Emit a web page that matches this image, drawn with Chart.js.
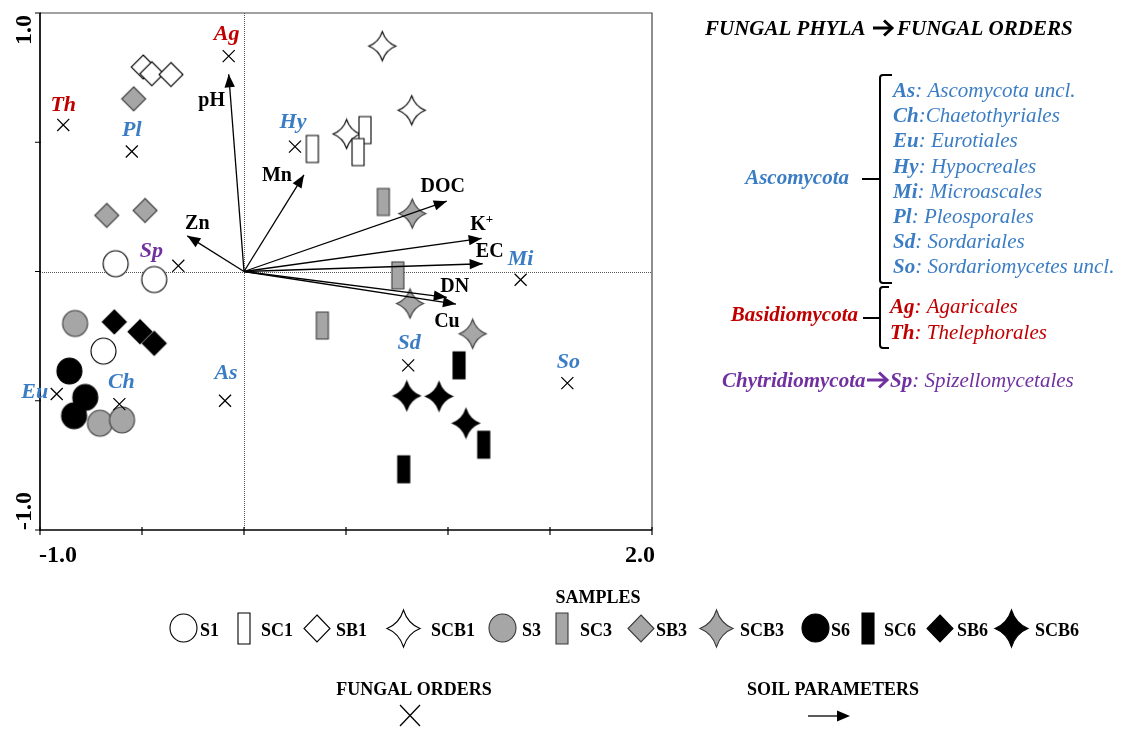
<!DOCTYPE html>
<html>
<head>
<meta charset="utf-8">
<script src="https://cdn.jsdelivr.net/npm/chart.js@4.4.0/dist/chart.umd.min.js"></script>
<style>
  html, body { margin: 0; padding: 0; background: #ffffff; }
  #wrap { width: 1122px; height: 729px; position: relative; }
</style>
</head>
<body>
<div id="wrap"><canvas id="biplot" width="1122" height="729"></canvas></div>
<script>
// ---------- ordination axes ----------
const xLimits = [-1.0, 2.0];
const yLimits = [-1.0, 1.0];
const tickStep = 0.5;
const xTickLabels = ['-1.0', '2.0'];
const yTickLabels = ['-1.0', '1.0'];

// ---------- sample scores, axis 1 / axis 2 (three replicates per treatment) ----------
const S1   = [[-0.629,  0.030], [-0.440, -0.031], [-0.689, -0.308]];
const SC1  = [[ 0.335,  0.474], [ 0.593,  0.547], [ 0.559,  0.462]];
const SB1  = [[-0.494,  0.791], [-0.452,  0.765], [-0.358,  0.762]];
const SCB1 = [[ 0.678,  0.872], [ 0.822,  0.624], [ 0.503,  0.532]];
const S3   = [[-0.828, -0.201], [-0.706, -0.587], [-0.598, -0.574]];
const SC3  = [[ 0.683,  0.269], [ 0.754, -0.015], [ 0.384, -0.209]];
const SB3  = [[-0.541,  0.668], [-0.673,  0.217], [-0.485,  0.236]];
const SCB3 = [[ 0.825,  0.224], [ 0.814, -0.124], [ 1.121, -0.241]];
const S6   = [[-0.856, -0.385], [-0.778, -0.487], [-0.833, -0.558]];
const SC6  = [[ 1.054, -0.363], [ 1.175, -0.670], [ 0.783, -0.765]];
const SB6  = [[-0.636, -0.195], [-0.510, -0.233], [-0.440, -0.278]];
const SCB6 = [[ 0.798, -0.481], [ 0.956, -0.483], [ 1.088, -0.587]];

const sampleNames  = ['S1', 'SC1', 'SB1', 'SCB1', 'S3', 'SC3', 'SB3', 'SCB3', 'S6', 'SC6', 'SB6', 'SCB6'];
const sampleScores = [S1, SC1, SB1, SCB1, S3, SC3, SB3, SCB3, S6, SC6, SB6, SCB6];

// ---------- fungal order scores ----------
const orderCodes = ['Ag', 'Th', 'Pl', 'Sp', 'Hy', 'Mi', 'Sd', 'So', 'Eu', 'Ch', 'As'];
const orderAxis1 = [-0.075, -0.886, -0.550, -0.322, 0.250, 1.356, 0.805, 1.585, -0.918, -0.611, -0.093];
const orderAxis2 = [ 0.833,  0.567,  0.464,  0.022, 0.483, -0.032, -0.363, -0.432, -0.474, -0.513, -0.500];
const orderPhyla = ['Basidiomycota', 'Basidiomycota', 'Ascomycota', 'Chytridiomycota', 'Ascomycota',
                    'Ascomycota', 'Ascomycota', 'Ascomycota', 'Ascomycota', 'Ascomycota', 'Ascomycota'];

// ---------- soil parameter vectors ----------
const soilParams = ['pH', 'Zn', 'Mn', 'DOC', 'K+', 'EC', 'DN', 'Cu'];
const soilAxis1  = [-0.075, -0.278, 0.294, 0.994, 1.165, 1.170, 0.994, 1.039];
const soilAxis2  = [ 0.763,  0.138, 0.374, 0.272, 0.128, 0.030, -0.100, -0.126];

// ---------- key text ----------
const ascomycotaOrders    = [['As', ': Ascomycota uncl.'], ['Ch', ':Chaetothyriales'], ['Eu', ': Eurotiales'],
                             ['Hy', ': Hypocreales'], ['Mi', ': Microascales'], ['Pl', ': Pleosporales'],
                             ['Sd', ': Sordariales'], ['So', ': Sordariomycetes uncl.']];
const basidiomycotaOrders = [['Ag', ': Agaricales'], ['Th', ': Thelephorales']];
const chytridOrders       = [['Sp', ': Spizellomycetales']];

// ================= styling =================
const SERIF = '"Liberation Serif", "Times New Roman", serif';
const BLUE = '#3b7dc4', RED = '#c00000', PURPLE = '#7030a0';
const phylumColour = { Ascomycota: BLUE, Basidiomycota: RED, Chytridiomycota: PURPLE };

const tones = {
  open:  { fill: '#ffffff', stroke: '#000000' },
  grey:  { fill: '#a6a6a6', stroke: '#3a3a3a' },
  black: { fill: '#000000', stroke: '#000000' }
};
function shapeOf(name) {
  if (name.startsWith('SCB')) return 'star';
  if (name.startsWith('SC')) return 'bar';
  if (name.startsWith('SB')) return 'diamond';
  return 'ellipse';
}
function toneOf(name) {
  const t = name.slice(-1);
  return t === '1' ? 'open' : (t === '3' ? 'grey' : 'black');
}
const plotSizes   = { ellipse: [25, 26], bar: [12, 27], diamond: [24, 24], star: [27, 29] };
const legendSizes = { ellipse: [27, 28], bar: [12, 31], diamond: [26, 27], star: [33, 37] };

function makeShape(kind, tone, w, h) {
  const pad = 2;
  const c = document.createElement('canvas');
  c.width = Math.round(w + pad * 2);
  c.height = Math.round(h + pad * 2);
  const g = c.getContext('2d');
  const cx = c.width / 2, cy = c.height / 2, rx = w / 2, ry = h / 2;
  g.beginPath();
  if (kind === 'ellipse') {
    g.ellipse(cx, cy, rx, ry, 0, 0, Math.PI * 2);
  } else if (kind === 'bar') {
    g.rect(cx - rx, cy - ry, w, h);
  } else if (kind === 'diamond') {
    g.moveTo(cx, cy - ry); g.lineTo(cx + rx, cy); g.lineTo(cx, cy + ry); g.lineTo(cx - rx, cy); g.closePath();
  } else {
    // four-pointed star with concave sides
    const k = 0.26;
    g.moveTo(cx, cy - ry);
    g.quadraticCurveTo(cx + rx * k, cy - ry * k, cx + rx, cy);
    g.quadraticCurveTo(cx + rx * k, cy + ry * k, cx, cy + ry);
    g.quadraticCurveTo(cx - rx * k, cy + ry * k, cx - rx, cy);
    g.quadraticCurveTo(cx - rx * k, cy - ry * k, cx, cy - ry);
    g.closePath();
  }
  g.fillStyle = tones[tone].fill;
  g.fill();
  g.lineWidth = 1.1;
  g.strokeStyle = tones[tone].stroke;
  g.stroke();
  return c;
}

// label placement (pixel offsets from the mark)
const orderLabelOffsets = [[-2, -22], [0, -20], [0, -21], [-27, -15], [-2, -24], [0, -20],
                           [1, -22], [1, -21], [-22, -2], [2, -22], [1, -27]];
const soilLabelOffsets  = [[-17, 27], [10, -12], [-27, 1], [-4, -14], [0, -14], [7, -12], [8, -11], [-9, 18]];

// bottom legend layout
const legendMarkerX = [183, 244, 317, 403, 502, 562, 641, 716, 815, 868, 940, 1011];
const legendLabelX  = [200, 261, 336, 431, 522, 580, 656, 740, 831, 884, 957, 1035];
const legendRowY = 628;

// ================= datasets =================
const arrowSets = soilParams.map((p, i) => ({
  type: 'line',
  label: p,
  data: [{ x: 0, y: 0 }, { x: soilAxis1[i], y: soilAxis2[i] }],
  borderColor: '#000000',
  borderWidth: 1.3,
  pointRadius: 0,
  fill: false,
  tension: 0,
  clip: false
}));

const orderSet = {
  type: 'scatter',
  label: 'Fungal orders',
  data: orderCodes.map((c, i) => ({ x: orderAxis1[i], y: orderAxis2[i] })),
  pointStyle: 'crossRot',
  pointRadius: 8.5,
  borderColor: '#000000',
  borderWidth: 1.25,
  clip: false
};

const sampleSets = sampleNames.map((name, i) => {
  const kind = shapeOf(name), tone = toneOf(name);
  const [w, h] = plotSizes[kind];
  return {
    type: 'scatter',
    label: name,
    data: sampleScores[i].map(p => ({ x: p[0], y: p[1] })),
    pointStyle: makeShape(kind, tone, w, h),
    pointRadius: 12,
    clip: false
  };
});

// ================= drawing helpers =================
function textRuns(ctx, x, y, parts) {
  for (const p of parts) {
    ctx.font = p.f;
    ctx.fillStyle = p.c;
    ctx.fillText(p.t, x, y);
    x += ctx.measureText(p.t).width;
  }
  return x;
}
function boldArrow(ctx, x0, x1, y, colour) {
  ctx.save();
  ctx.strokeStyle = colour;
  ctx.lineWidth = 3;
  ctx.lineCap = 'butt';
  ctx.lineJoin = 'miter';
  ctx.beginPath();
  ctx.moveTo(x0, y); ctx.lineTo(x1 - 2, y);
  ctx.stroke();
  ctx.beginPath();
  ctx.moveTo(x1 - 8, y - 7.5); ctx.lineTo(x1, y); ctx.lineTo(x1 - 8, y + 7.5);
  ctx.stroke();
  ctx.restore();
}
function brace(ctx, x, top, bottom, mid, tipX, hookX) {
  ctx.save();
  ctx.strokeStyle = '#000';
  ctx.lineWidth = 2;
  ctx.beginPath();
  ctx.moveTo(hookX, top);
  ctx.lineTo(x + 3, top);
  ctx.quadraticCurveTo(x, top, x, top + 3);
  ctx.lineTo(x, bottom - 3);
  ctx.quadraticCurveTo(x, bottom, x + 3, bottom);
  ctx.lineTo(hookX, bottom);
  ctx.moveTo(tipX, mid);
  ctx.lineTo(x, mid);
  ctx.stroke();
  ctx.restore();
}
function arrowHead(ctx, x0, y0, x1, y1, len, half) {
  const a = Math.atan2(y1 - y0, x1 - x0);
  ctx.beginPath();
  ctx.moveTo(x1, y1);
  ctx.lineTo(x1 - len * Math.cos(a) + half * Math.sin(a), y1 - len * Math.sin(a) - half * Math.cos(a));
  ctx.lineTo(x1 - len * Math.cos(a) - half * Math.sin(a), y1 - len * Math.sin(a) + half * Math.cos(a));
  ctx.closePath();
  ctx.fill();
}

// ================= plugins =================
const framePlugin = {
  id: 'frame',
  beforeDatasetsDraw(chart) {
    const { ctx, chartArea: a, scales: { x, y } } = chart;
    ctx.save();
    // dotted zero lines
    const x0 = Math.round(x.getPixelForValue(0)) + 0.5;
    const y0 = Math.round(y.getPixelForValue(0)) + 0.5;
    ctx.strokeStyle = '#555';
    ctx.lineWidth = 1;
    ctx.setLineDash([1, 1]);
    ctx.beginPath();
    ctx.moveTo(x0, a.top); ctx.lineTo(x0, a.bottom);
    ctx.moveTo(a.left, y0); ctx.lineTo(a.right, y0);
    ctx.stroke();
    ctx.setLineDash([]);
    // upper and right border
    ctx.strokeStyle = '#444';
    ctx.lineWidth = 1.2;
    ctx.beginPath();
    ctx.moveTo(a.left, a.top); ctx.lineTo(a.right, a.top); ctx.lineTo(a.right, a.bottom);
    ctx.stroke();
    // axis lines
    ctx.strokeStyle = '#000';
    ctx.lineWidth = 1.7;
    ctx.beginPath();
    ctx.moveTo(a.left, a.top); ctx.lineTo(a.left, a.bottom); ctx.lineTo(a.right, a.bottom);
    ctx.stroke();
    // tick marks
    ctx.lineWidth = 1.2;
    ctx.beginPath();
    for (let v = xLimits[0]; v <= xLimits[1] + 1e-9; v += tickStep) {
      const px = x.getPixelForValue(v);
      ctx.moveTo(px, a.bottom - 3); ctx.lineTo(px, a.bottom + 5);
    }
    for (let v = yLimits[0]; v <= yLimits[1] + 1e-9; v += tickStep) {
      const py = y.getPixelForValue(v);
      ctx.moveTo(a.left - 5, py); ctx.lineTo(a.left + 1, py);
    }
    ctx.stroke();
    // end tick labels
    ctx.fillStyle = '#000';
    ctx.font = 'bold 24px ' + SERIF;
    ctx.textBaseline = 'alphabetic';
    ctx.textAlign = 'left';
    ctx.fillText(xTickLabels[0], x.getPixelForValue(xLimits[0]) - 1, a.bottom + 32);
    ctx.textAlign = 'right';
    ctx.fillText(xTickLabels[1], x.getPixelForValue(xLimits[1]) + 3, a.bottom + 32);
    ctx.save();
    ctx.translate(31, y.getPixelForValue(yLimits[0]));
    ctx.rotate(-Math.PI / 2);
    ctx.textAlign = 'left';
    ctx.fillText(yTickLabels[0], 0, 0);
    ctx.restore();
    ctx.save();
    ctx.translate(31, y.getPixelForValue(yLimits[1]) + 2);
    ctx.rotate(-Math.PI / 2);
    ctx.textAlign = 'right';
    ctx.fillText(yTickLabels[1], 0, 0);
    ctx.restore();
    ctx.restore();
  }
};

const overlayPlugin = {
  id: 'overlay',
  afterDatasetsDraw(chart) {
    const { ctx } = chart;
    ctx.save();
    // vector heads and names
    ctx.fillStyle = '#000';
    soilParams.forEach((p, i) => {
      const pts = chart.getDatasetMeta(i).data;
      arrowHead(ctx, pts[0].x, pts[0].y, pts[1].x, pts[1].y, 13, 5.2);
    });
    ctx.textAlign = 'center';
    ctx.textBaseline = 'middle';
    soilParams.forEach((p, i) => {
      const tip = chart.getDatasetMeta(i).data[1];
      const lx = tip.x + soilLabelOffsets[i][0];
      const ly = tip.y + soilLabelOffsets[i][1];
      if (p === 'K+') {
        ctx.font = 'bold 20px ' + SERIF;
        const kw = ctx.measureText('K').width;
        ctx.font = 'bold 13px ' + SERIF;
        const pw = ctx.measureText('+').width;
        const left = lx - (kw + pw) / 2;
        ctx.textAlign = 'left';
        ctx.font = 'bold 20px ' + SERIF;
        ctx.fillText('K', left, ly);
        ctx.font = 'bold 13px ' + SERIF;
        ctx.fillText('+', left + kw, ly - 5);
        ctx.textAlign = 'center';
      } else {
        ctx.font = 'bold 20px ' + SERIF;
        ctx.fillText(p, lx, ly);
      }
    });
    // order codes
    const om = chart.getDatasetMeta(soilParams.length).data;
    ctx.font = 'italic bold 22px ' + SERIF;
    orderCodes.forEach((c, i) => {
      ctx.fillStyle = phylumColour[orderPhyla[i]];
      ctx.fillText(c, om[i].x + orderLabelOffsets[i][0], om[i].y + orderLabelOffsets[i][1]);
    });
    ctx.restore();
  },
  afterDraw(chart) {
    const { ctx } = chart;
    ctx.save();
    ctx.textBaseline = 'alphabetic';
    ctx.textAlign = 'left';
    const BI = 'italic bold 21px ' + SERIF;
    const IT = 'italic 21px ' + SERIF;

    // key heading
    textRuns(ctx, 705, 35, [{ t: 'FUNGAL PHYLA', f: BI, c: '#000' }]);
    boldArrow(ctx, 873, 892, 28, '#000');
    textRuns(ctx, 897, 35, [{ t: 'FUNGAL ORDERS', f: BI, c: '#000' }]);

    // Ascomycota group
    ascomycotaOrders.forEach((o, i) => {
      textRuns(ctx, 893, 97 + i * 25.2, [{ t: o[0], f: BI, c: BLUE }, { t: o[1], f: IT, c: BLUE }]);
    });
    ctx.textAlign = 'right';
    ctx.font = BI; ctx.fillStyle = BLUE;
    ctx.fillText('Ascomycota', 849, 184);
    ctx.textAlign = 'left';
    brace(ctx, 880, 75, 283, 179, 862, 892);

    // Basidiomycota group
    basidiomycotaOrders.forEach((o, i) => {
      textRuns(ctx, 890, 313 + i * 26, [{ t: o[0], f: BI, c: RED }, { t: o[1], f: IT, c: RED }]);
    });
    ctx.textAlign = 'right';
    ctx.font = BI; ctx.fillStyle = RED;
    ctx.fillText('Basidiomycota', 858, 321);
    ctx.textAlign = 'left';
    brace(ctx, 880, 287, 348, 318, 863, 889);

    // Chytridiomycota
    textRuns(ctx, 722, 387, [{ t: 'Chytridiomycota', f: BI, c: PURPLE }]);
    boldArrow(ctx, 867, 887, 380, PURPLE);
    textRuns(ctx, 890, 387, [{ t: chytridOrders[0][0], f: BI, c: PURPLE }, { t: chytridOrders[0][1], f: IT, c: PURPLE }]);

    // samples legend
    ctx.fillStyle = '#000';
    ctx.font = 'bold 18px ' + SERIF;
    ctx.textAlign = 'center';
    ctx.fillText('SAMPLES', 598, 603);
    ctx.textAlign = 'left';
    ctx.font = 'bold 18px ' + SERIF;
    sampleNames.forEach((name, i) => {
      const kind = shapeOf(name);
      const [w, h] = legendSizes[kind];
      const img = makeShape(kind, toneOf(name), w, h);
      ctx.drawImage(img, Math.round(legendMarkerX[i] - img.width / 2), Math.round(legendRowY - img.height / 2));
      ctx.fillStyle = '#000';
      ctx.fillText(name, legendLabelX[i], legendRowY + 8);
    });

    // orders / parameters legend
    ctx.font = 'bold 18px ' + SERIF;
    ctx.textAlign = 'center';
    ctx.fillText('FUNGAL ORDERS', 414, 695);
    ctx.fillText('SOIL PARAMETERS', 833, 695);
    ctx.strokeStyle = '#000';
    ctx.lineWidth = 1.3;
    ctx.beginPath();
    ctx.moveTo(400, 705); ctx.lineTo(420, 726);
    ctx.moveTo(420, 705); ctx.lineTo(400, 726);
    ctx.stroke();
    ctx.beginPath();
    ctx.moveTo(808, 716); ctx.lineTo(840, 716);
    ctx.stroke();
    arrowHead(ctx, 808, 716, 850, 716, 13, 5.5);
    ctx.restore();
  }
};

// ================= chart =================
new Chart(document.getElementById('biplot'), {
  type: 'scatter',
  data: { datasets: [...arrowSets, orderSet, ...sampleSets] },
  options: {
    responsive: false,
    animation: false,
    devicePixelRatio: 1,
    events: [],
    layout: { padding: { left: 40, top: 10, right: 470, bottom: 199 } },
    scales: {
      x: { type: 'linear', min: xLimits[0], max: xLimits[1], display: false },
      y: { type: 'linear', min: yLimits[0], max: yLimits[1], display: false }
    },
    plugins: { legend: { display: false }, tooltip: { enabled: false } }
  },
  plugins: [framePlugin, overlayPlugin]
});
</script>
</body>
</html>
